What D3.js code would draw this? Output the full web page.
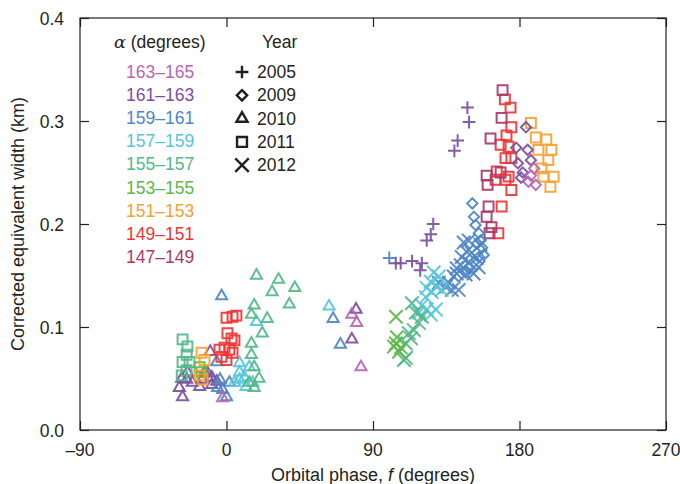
<!DOCTYPE html>
<html>
<head>
<meta charset="utf-8">
<script src="https://cdn.jsdelivr.net/npm/d3@7"></script>
<style>
body { margin: 0; background: #fff; }
text { font-family: "Liberation Sans", Arial, sans-serif; fill: #231f20; }
</style>
</head>
<body>
<script>
var w = 680;
var h = 484;

// alpha bins (lower bound), label and colour
var alphaBins = [163, 161, 159, 157, 155, 153, 151, 149, 147];
var alphaLabels = ["163\u2013165", "161\u2013163", "159\u2013161", "157\u2013159", "155\u2013157",
	"153\u2013155", "151\u2013153", "149\u2013151", "147\u2013149"];
var alphaColours = ["#b865b4", "#7a4fa0", "#4e86c6", "#55c5dc", "#52b987",
	"#5db84a", "#f5a232", "#ee3535", "#a73a6c"];

var years = [2005, 2009, 2010, 2011, 2012];

var xTicks = [-90, 0, 90, 180, 270];
var yTicks = [0.0, 0.1, 0.2, 0.3, 0.4];

// [orbital phase (deg), corrected equivalent width (km), alpha bin]
var pts2005 = [
	[148, 0.313, 161], [149, 0.299, 161], [142, 0.281, 161], [140, 0.271, 161],
	[127, 0.200, 161], [125.5, 0.190, 161], [123, 0.184, 161],
	[100, 0.167, 159], [104, 0.162, 161], [107, 0.162, 161], [114, 0.164, 161],
	[120, 0.162, 161], [119, 0.155, 161]
];
var pts2009 = [
	[151, 0.220, 159], [152, 0.207, 159], [153, 0.199, 159], [155, 0.191, 159],
	[156, 0.184, 159], [157, 0.177, 159], [155, 0.168, 159], [152, 0.163, 159],
	[149, 0.157, 159], [147, 0.153, 159], [158, 0.170, 159], [154, 0.181, 159],
	[184, 0.294, 161], [178, 0.274, 161], [185, 0.272, 161], [179, 0.259, 161],
	[182, 0.250, 161], [181, 0.245, 161], [187, 0.262, 161],
	[189, 0.254, 163], [187, 0.247, 163], [190, 0.238, 163], [185.5, 0.241, 163]
];
var pts2010 = [
	[-10, 0.076, 161], [-24, 0.056, 161], [-27.5, 0.050, 161], [-24.5, 0.049, 161],
	[-29, 0.041, 161], [-27, 0.032, 161], [-21, 0.046, 161], [-16.5, 0.042, 161],
	[-15, 0.049, 161], [-11.5, 0.055, 161], [-9, 0.051, 161], [-13.5, 0.056, 161],
	[-9, 0.044, 161], [-6, 0.047, 161], [79.6, 0.117, 161], [77, 0.088, 161],
	[-3, 0.130, 159], [-6, 0.066, 159], [-4, 0.049, 159], [-2.4, 0.039, 159],
	[0, 0.032, 159], [-5.5, 0.041, 159], [1.8, 0.046, 159], [65.5, 0.108, 159], [70, 0.083, 159],
	[-2.4, 0.031, 163], [77, 0.112, 163], [80, 0.104, 163], [82.6, 0.061, 163],
	[8, 0.065, 157], [8, 0.056, 157], [11, 0.051, 157], [12, 0.042, 157], [8, 0.049, 157],
	[5, 0.046, 157], [14, 0.061, 157], [16, 0.046, 157], [18.4, 0.105, 157], [63, 0.120, 157],
	[18.4, 0.150, 155], [32, 0.146, 155], [28, 0.134, 155], [42, 0.138, 155], [38.6, 0.122, 155],
	[17, 0.121, 155], [15.3, 0.112, 155], [25, 0.108, 155], [22, 0.094, 155], [15.3, 0.084, 155],
	[15.3, 0.073, 155], [17, 0.061, 155], [14, 0.046, 155], [17, 0.041, 155], [20, 0.050, 155]
];
var pts2011 = [
	[-27, 0.088, 155], [-24, 0.081, 155], [-24.5, 0.073, 155], [-27, 0.066, 155],
	[-22.7, 0.066, 155], [-27.5, 0.053, 155], [-24.5, 0.058, 155],
	[-16.5, 0.061, 153], [-15.3, 0.056, 153],
	[-15.3, 0.075, 151], [-13.5, 0.068, 151], [-14.7, 0.049, 151], [-16.5, 0.053, 151],
	[187, 0.298, 151], [190, 0.284, 151], [196.5, 0.282, 151], [199.6, 0.272, 151],
	[191.6, 0.272, 151], [197.7, 0.262, 151], [193.5, 0.254, 151], [201, 0.246, 151],
	[199, 0.236, 151], [194.7, 0.246, 151],
	[0, 0.109, 149], [3.7, 0.110, 149], [6.1, 0.111, 149], [0.6, 0.094, 149], [3.1, 0.089, 149],
	[4.9, 0.087, 149], [-4.3, 0.078, 149], [-1.2, 0.080, 149], [1.8, 0.078, 149],
	[-3.1, 0.071, 149], [0, 0.068, 149], [3.7, 0.075, 149],
	[171, 0.321, 149], [174.5, 0.313, 149], [175, 0.294, 149], [172, 0.286, 149],
	[168.4, 0.277, 149], [173.3, 0.275, 149], [171.4, 0.264, 149], [175, 0.264, 149],
	[166, 0.251, 149], [165.3, 0.243, 149], [171.4, 0.243, 149], [175, 0.233, 149],
	[169, 0.217, 149], [167, 0.191, 149], [173.3, 0.246, 149],
	[169.6, 0.330, 147], [169, 0.303, 147], [162.2, 0.283, 147], [159.8, 0.247, 147],
	[160.4, 0.238, 147], [161, 0.217, 147], [159.8, 0.207, 147], [162.8, 0.197, 147],
	[161.6, 0.191, 147], [168.4, 0.250, 147]
];
var pts2012 = [
	[145.7, 0.182, 159], [147.5, 0.173, 159], [144.5, 0.168, 159], [141.4, 0.157, 159],
	[139.6, 0.149, 159], [136.5, 0.143, 159], [138.4, 0.136, 159], [134.7, 0.139, 159],
	[141.4, 0.152, 159], [148.8, 0.163, 159], [150.6, 0.172, 159], [153.7, 0.167, 159],
	[154.9, 0.158, 159], [151.8, 0.152, 159], [146.9, 0.151, 159], [143.9, 0.160, 159],
	[148.8, 0.184, 159], [156, 0.180, 159], [142.6, 0.136, 159], [130.4, 0.143, 159],
	[127.3, 0.153, 157], [130.4, 0.149, 157], [125.5, 0.144, 157], [123, 0.138, 157],
	[129.2, 0.139, 157], [132.2, 0.136, 157], [126.1, 0.134, 157], [120, 0.121, 157],
	[123, 0.117, 157], [125.5, 0.112, 157], [118.2, 0.114, 157], [122.4, 0.129, 157],
	[128.6, 0.117, 157],
	[113.9, 0.123, 155], [116.3, 0.114, 155], [112, 0.094, 155], [110.2, 0.084, 155],
	[109, 0.068, 155], [120, 0.110, 155], [118.2, 0.104, 155], [113.3, 0.089, 155],
	[110.2, 0.070, 155], [115.1, 0.097, 155],
	[104.1, 0.110, 153], [104.7, 0.090, 153], [104.1, 0.084, 153], [107.1, 0.080, 153],
	[106, 0.076, 153], [102.9, 0.081, 153]
];

var pLeft = 80, pRight = 666, pTop = 18, pBottom = 430;

var x = d3.scaleLinear().domain([-90, 270]).range([pLeft, pRight]);
var y = d3.scaleLinear().domain([0, 0.4]).range([pBottom, pTop]);
var colour = d3.scaleOrdinal().domain(alphaBins).range(alphaColours);

var symbolTypes = {
	2005: [d3.symbolPlus, 55],
	2009: [d3.symbolDiamond2, 68],
	2010: [d3.symbolTriangle2, 88],
	2011: [d3.symbolSquare2, 125],
	2012: [d3.symbolTimes, 120]
};
var pointSets = {2005: pts2005, 2009: pts2009, 2010: pts2010, 2011: pts2011, 2012: pts2012};

var svg = d3.select("body")
	.append("svg")
	.attr("width", w)
	.attr("height", h);

// points
[2010, 2011, 2012, 2005, 2009].forEach(function(yr){
	var sym = d3.symbol().type(symbolTypes[yr][0]).size(symbolTypes[yr][1]);
	svg.append("g")
		.selectAll("path")
		.data(pointSets[yr])
		.enter()
		.append("path")
			.attr("d", sym)
			.attr("transform", function(d){ return "translate(" + x(d[0]) + "," + y(d[1]) + ")"; })
			.attr("fill", "none")
			.attr("stroke", function(d){ return colour(d[2]); })
			.attr("stroke-width", 2)
			.attr("stroke-opacity", 0.92);
});

// axes - ticks point inwards, all four sides
svg.append("rect")
	.attr("x", pLeft).attr("y", pTop)
	.attr("width", pRight - pLeft).attr("height", pBottom - pTop)
	.attr("fill", "none")
	.attr("stroke", "#231f20")
	.attr("stroke-width", 1.2);

function xAxis(pos, dir){
	var g = svg.append("g").attr("transform", "translate(0," + pos + ")");
	g.call(d3.axisBottom(x).tickValues(d3.range(-90, 271, 30)).tickSize(dir * 5).tickFormat(""));
	g.call(d3.axisBottom(x).tickValues(xTicks).tickSize(dir * 9).tickFormat(""));
	g.select(".domain").remove();
	g.selectAll("line").attr("stroke", "#231f20").attr("stroke-width", 1.2);
}
function yAxis(pos, dir){
	var g = svg.append("g").attr("transform", "translate(" + pos + ",0)");
	g.call(d3.axisLeft(y).tickValues(d3.range(0, 41).map(function(i){ return i / 100; })).tickSize(dir * 5).tickFormat(""));
	g.call(d3.axisLeft(y).tickValues(yTicks).tickSize(dir * 9).tickFormat(""));
	g.select(".domain").remove();
	g.selectAll("line").attr("stroke", "#231f20").attr("stroke-width", 1.2);
}
xAxis(pBottom, -1);
xAxis(pTop, 1);
yAxis(pLeft, -1);
yAxis(pRight, 1);

// tick labels
svg.selectAll("text.xl")
	.data(xTicks)
	.enter()
	.append("text")
	.attr("class", "xl")
	.text(function(d){ return d < 0 ? "\u2013" + (-d) : d; })
	.attr("x", function(d){ return x(d); })
	.attr("y", pBottom + 26)
	.attr("text-anchor", "middle")
	.attr("font-size", 17.5);

svg.selectAll("text.yl")
	.data(yTicks)
	.enter()
	.append("text")
	.attr("class", "yl")
	.text(function(d){ return d.toFixed(1); })
	.attr("x", pLeft - 16)
	.attr("y", function(d){ return y(d) + 6.5; })
	.attr("text-anchor", "end")
	.attr("font-size", 17.5);

// axis titles
var xt = svg.append("text")
	.attr("x", (pLeft + pRight) / 2)
	.attr("y", 481)
	.attr("text-anchor", "middle")
	.attr("font-size", 18);
xt.append("tspan").text("Orbital phase, ");
xt.append("tspan").attr("font-style", "italic").text("f");
xt.append("tspan").text(" (degrees)");

svg.append("text")
	.attr("transform", "translate(24," + (pTop + pBottom) / 2 + ") rotate(-90)")
	.attr("text-anchor", "middle")
	.attr("font-size", 18)
	.text("Corrected equivalent width (km)");

// legend: alpha bins
var lt = svg.append("text").attr("x", 114).attr("y", 48).attr("font-size", 17.5);
lt.append("tspan").attr("font-style", "italic").attr("font-family", "'DejaVu Serif', serif").text("\u03b1");
lt.append("tspan").text(" (degrees)");

svg.selectAll("text.al")
	.data(alphaLabels)
	.enter()
	.append("text")
	.attr("class", "al")
	.text(function(d){ return d; })
	.attr("x", 126)
	.attr("y", function(d, i){ return 78 + i * 23.1; })
	.attr("font-size", 17.5)
	.style("fill", function(d, i){ return alphaColours[i]; });

// legend: years
svg.append("text").attr("x", 262).attr("y", 48).attr("font-size", 17.5).text("Year");
years.forEach(function(yr, i){
	var cy = 72 + i * 23.3;
	svg.append("path")
		.attr("d", d3.symbol().type(symbolTypes[yr][0]).size(symbolTypes[yr][1])())
		.attr("transform", "translate(242," + cy + ")")
		.attr("fill", "none")
		.attr("stroke", "#231f20")
		.attr("stroke-width", 2.4);
	svg.append("text")
		.attr("x", 257)
		.attr("y", cy + 6)
		.attr("font-size", 17.5)
		.text(yr);
});
</script>
</body>
</html>
